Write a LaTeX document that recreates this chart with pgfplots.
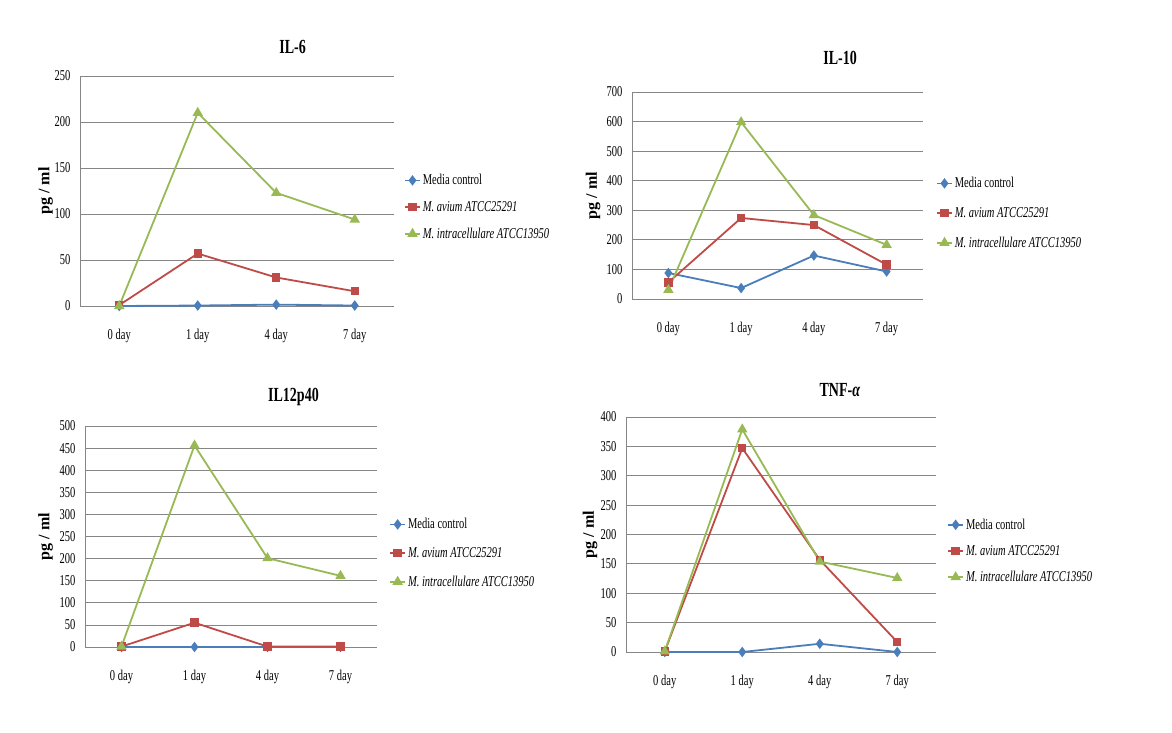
\documentclass[border=0pt]{standalone}
\usepackage{pgfplots}
\pgfplotsset{compat=1.18}
\usepackage{fontspec}
\setmainfont[FakeStretch=0.7]{Liberation Serif}
\newfontfamily\labfont{Liberation Serif}
\definecolor{cblue}{HTML}{4A7EBB}
\definecolor{cred}{HTML}{BE4B48}
\definecolor{cgreen}{HTML}{98B954}
\definecolor{cgrid}{HTML}{868686}
\pgfplotsset{
  panel/.style={
    scale only axis,
    xmin=-0.5, xmax=3.5, ymin=0,
    xtick={0,1,2,3},
    xticklabels={0 day,1 day,4 day,7 day},
    axis x line*=bottom, axis y line*=left,
    axis line style={cgrid, line width=0.8pt},
    major tick length=0pt,
    ymajorgrids,
    grid style={cgrid, line width=0.8pt},
    /pgf/number format/assume math mode=true,
    ticklabel style={font=\fontsize{15}{18}\selectfont},
    xticklabel style={yshift=-20pt},
    yticklabel style={xshift=-6pt},
    ylabel={pg / ml},
    title style={font=\bfseries\fontsize{20}{24}\selectfont, anchor=center},
    legend style={draw=none, fill=none, anchor=west,
      font=\fontsize{15}{18}\selectfont,
      /tikz/every even column/.append style={column sep=1pt}},
    legend cell align=left,
    legend image code/.code={\draw[mark repeat=2,mark phase=2] plot coordinates {(0pt,0pt)(7.5pt,0pt)(15pt,0pt)};},
    every axis plot/.append style={line width=1.8pt},
  },
  s1/.style={color=cblue, mark=diamond*, mark size=3.8pt, mark options={solid}},
  s2/.style={color=cred, mark=square*, mark size=3.3pt, mark options={solid}},
  s3/.style={color=cgreen, mark=triangle*, mark size=4.2pt, mark options={solid}},
}
\begin{document}
\begin{tikzpicture}
\path (0pt,0pt) rectangle (1172pt,732pt);

% IL-6
\begin{axis}[panel, at={(80pt,426pt)}, anchor=south west, width=314pt, height=230pt,
  ymax=250, ytick distance=50,
  title={IL-6}, title style={at={([yshift=23pt]rel axis cs:0.677,1)}},
  ylabel style={font=\labfont\bfseries\fontsize{16}{18}\selectfont, at={([xshift=-34.5pt]rel axis cs:0,0.5)}, anchor=center},
  legend style={at={(1.022,0.43)}, row sep=11pt}]
\addplot[s1] coordinates {(0,0) (1,0.5) (2,1.5) (3,0.5)};
\addplot[s2] coordinates {(0,1) (1,57) (2,31) (3,16)};
\addplot[s3] coordinates {(0,0) (1,210) (2,123) (3,94)};
\legend{Media control, \textit{M. avium ATCC25291}, \textit{M. intracellulare ATCC13950}}
\end{axis}

% IL-10
\begin{axis}[panel, at={(632pt,433pt)}, anchor=south west, width=291pt, height=207pt,
  ymax=700, ytick distance=100,
  title={IL-10}, title style={at={([yshift=28pt]rel axis cs:0.715,1)}},
  ylabel style={font=\labfont\bfseries\fontsize{16}{18}\selectfont, at={([xshift=-39pt]rel axis cs:0,0.5)}, anchor=center},
  legend style={at={(1.034,0.415)}, row sep=14pt}]
\addplot[s1] coordinates {(0,88) (1,37) (2,147) (3,93)};
\addplot[s2] coordinates {(0,56) (1,274) (2,250) (3,116)};
\addplot[s3] coordinates {(0,31) (1,598) (2,284) (3,183)};
\legend{Media control, \textit{M. avium ATCC25291}, \textit{M. intracellulare ATCC13950}}
\end{axis}

% IL12p40
\begin{axis}[panel, at={(85pt,85pt)}, anchor=south west, width=292pt, height=221pt,
  ymax=500, ytick distance=50,
  title={IL12p40}, title style={at={([yshift=23pt]rel axis cs:0.714,1)}},
  ylabel style={font=\labfont\bfseries\fontsize{16}{18}\selectfont, at={([xshift=-39.5pt]rel axis cs:0,0.5)}, anchor=center},
  legend style={at={(1.031,0.425)}, row sep=13pt}]
\addplot[s1] coordinates {(0,0) (1,0) (2,0) (3,0)};
\addplot[s2] coordinates {(0,1) (1,55) (2,1) (3,1)};
\addplot[s3] coordinates {(0,1) (1,456) (2,201) (3,161)};
\legend{Media control, \textit{M. avium ATCC25291}, \textit{M. intracellulare ATCC13950}}
\end{axis}

% TNF-alpha
\begin{axis}[panel, at={(626pt,80pt)}, anchor=south west, width=310pt, height=235pt,
  ymax=400, ytick distance=50,
  title={TNF-\textit{α}}, title style={at={([yshift=21pt]rel axis cs:0.69,1)}},
  ylabel style={font=\labfont\bfseries\fontsize{16}{18}\selectfont, at={([xshift=-36pt]rel axis cs:0,0.5)}, anchor=center},
  legend style={at={(1.026,0.43)}, row sep=10.5pt}]
\addplot[s1] coordinates {(0,0) (1,0) (2,14) (3,0)};
\addplot[s2] coordinates {(0,1) (1,347) (2,157) (3,17)};
\addplot[s3] coordinates {(0,1) (1,379) (2,154) (3,126)};
\legend{Media control, \textit{M. avium ATCC25291}, \textit{M. intracellulare ATCC13950}}
\end{axis}
\end{tikzpicture}
\end{document}
